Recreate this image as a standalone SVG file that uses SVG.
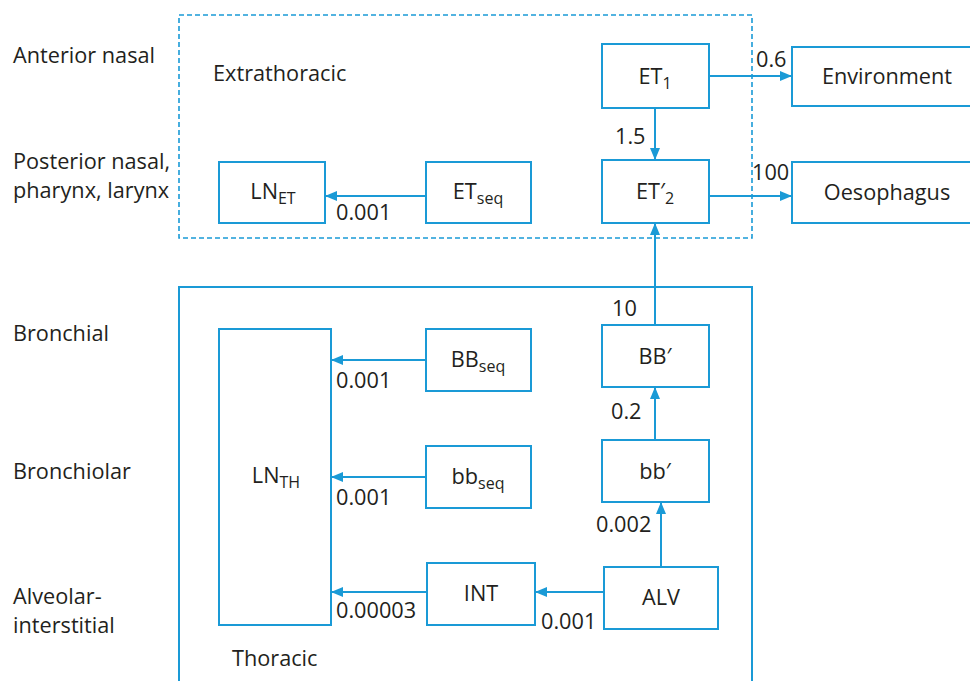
<svg xmlns="http://www.w3.org/2000/svg" width="970" height="681" viewBox="0 0 970 681">
<defs>
<style>
.t{font-family:"Open Sans","Noto Sans",sans-serif;font-size:21.7px;fill:#231f20}
.c{text-anchor:middle}
.s{font-size:16px}
.box{fill:#fff;stroke:#1a9ad6;stroke-width:2}
.ln{fill:none;stroke:#1a9ad6;stroke-width:2}
</style>
<marker id="ah" viewBox="0 0 12 10" refX="12" refY="5" markerWidth="12" markerHeight="10" markerUnits="userSpaceOnUse" orient="auto">
<path d="M0,0 L12,5 L0,10 Z" fill="#1a9ad6"/>
</marker>
</defs>
<rect width="970" height="681" fill="#fff"/>
<g id="regions">
<rect x="179" y="15" width="573" height="223" fill="none" stroke="#1a9ad6" stroke-width="1.6" stroke-dasharray="5,3"/>
<rect x="179" y="287" width="573" height="420" fill="none" stroke="#1a9ad6" stroke-width="2"/>
<text class="t" x="213" y="81">Extrathoracic</text>
<text class="t" x="232" y="666">Thoracic</text>
</g>
<g id="side-labels">
<text class="t" x="13" y="63">Anterior nasal</text>
<text class="t" x="13" y="169">Posterior nasal,</text>
<text class="t" x="13" y="198">pharynx, larynx</text>
<text class="t" x="13" y="341">Bronchial</text>
<text class="t" x="13" y="479">Bronchiolar</text>
<text class="t" x="13" y="604">Alveolar-</text>
<text class="t" x="13" y="633">interstitial</text>
</g>
<g id="connectors">
<line class="ln" x1="709" y1="76" x2="792" y2="76" marker-end="url(#ah)"/>
<line class="ln" x1="655" y1="108" x2="655" y2="160" marker-end="url(#ah)"/>
<line class="ln" x1="709" y1="196" x2="792" y2="196" marker-end="url(#ah)"/>
<line class="ln" x1="426" y1="196" x2="325" y2="196" marker-end="url(#ah)"/>
<line class="ln" x1="655" y1="325" x2="655" y2="223" marker-end="url(#ah)"/>
<line class="ln" x1="655" y1="440" x2="655" y2="387" marker-end="url(#ah)"/>
<line class="ln" x1="661" y1="567" x2="661" y2="502" marker-end="url(#ah)"/>
<line class="ln" x1="426" y1="360" x2="331" y2="360" marker-end="url(#ah)"/>
<line class="ln" x1="426" y1="477" x2="331" y2="477" marker-end="url(#ah)"/>
<line class="ln" x1="427" y1="592" x2="331" y2="592" marker-end="url(#ah)"/>
<line class="ln" x1="604" y1="592" x2="535" y2="592" marker-end="url(#ah)"/>
<text class="t" x="756" y="67">0.6</text>
<text class="t" x="615" y="144">1.5</text>
<text class="t" x="752" y="180">100</text>
<text class="t" x="336" y="220">0.001</text>
<text class="t" x="612" y="316">10</text>
<text class="t" x="611" y="419">0.2</text>
<text class="t" x="596" y="532">0.002</text>
<text class="t" x="336" y="388">0.001</text>
<text class="t" x="336" y="505">0.001</text>
<text class="t" x="336" y="618">0.00003</text>
<text class="t" x="541" y="629">0.001</text>
</g>
<g id="ET1">
<rect class="box" x="602" y="44" width="107" height="64"/>
<text class="t c" x="655" y="84">ET<tspan class="s" dy="5">1</tspan></text>
</g>
<g id="Environment">
<rect class="box" x="792" y="47" width="190" height="59"/>
<text class="t c" x="887" y="84">Environment</text>
</g>
<g id="ET2">
<rect class="box" x="602" y="160" width="107" height="63"/>
<text class="t c" x="655" y="199">ET′<tspan class="s" dy="5">2</tspan></text>
</g>
<g id="Oesophagus">
<rect class="box" x="792" y="162" width="190" height="61"/>
<text class="t c" x="887" y="200">Oesophagus</text>
</g>
<g id="LNET">
<rect class="box" x="219" y="162" width="106" height="61"/>
<text class="t c" x="273" y="199">LN<tspan class="s" dy="5">ET</tspan></text>
</g>
<g id="ETseq">
<rect class="box" x="426" y="162" width="105" height="61"/>
<text class="t c" x="478" y="199">ET<tspan class="s" dy="5">seq</tspan></text>
</g>
<g id="LNTH">
<rect class="box" x="219" y="329" width="112" height="296"/>
<text class="t c" x="276" y="483">LN<tspan class="s" dy="5">TH</tspan></text>
</g>
<g id="BBseq">
<rect class="box" x="426" y="329" width="105" height="62"/>
<text class="t c" x="478" y="367">BB<tspan class="s" dy="5">seq</tspan></text>
</g>
<g id="bbseq">
<rect class="box" x="426" y="446" width="105" height="62"/>
<text class="t c" x="478" y="484">bb<tspan class="s" dy="5">seq</tspan></text>
</g>
<g id="BBp">
<rect class="box" x="602" y="325" width="107" height="62"/>
<text class="t c" x="655" y="364">BB′</text>
</g>
<g id="bbp">
<rect class="box" x="602" y="440" width="107" height="62"/>
<text class="t c" x="655" y="479">bb′</text>
</g>
<g id="INT">
<rect class="box" x="427" y="563" width="108" height="62"/>
<text class="t c" x="481" y="601">INT</text>
</g>
<g id="ALV">
<rect class="box" x="604" y="567" width="114" height="62"/>
<text class="t c" x="661" y="605">ALV</text>
</g>
</svg>
